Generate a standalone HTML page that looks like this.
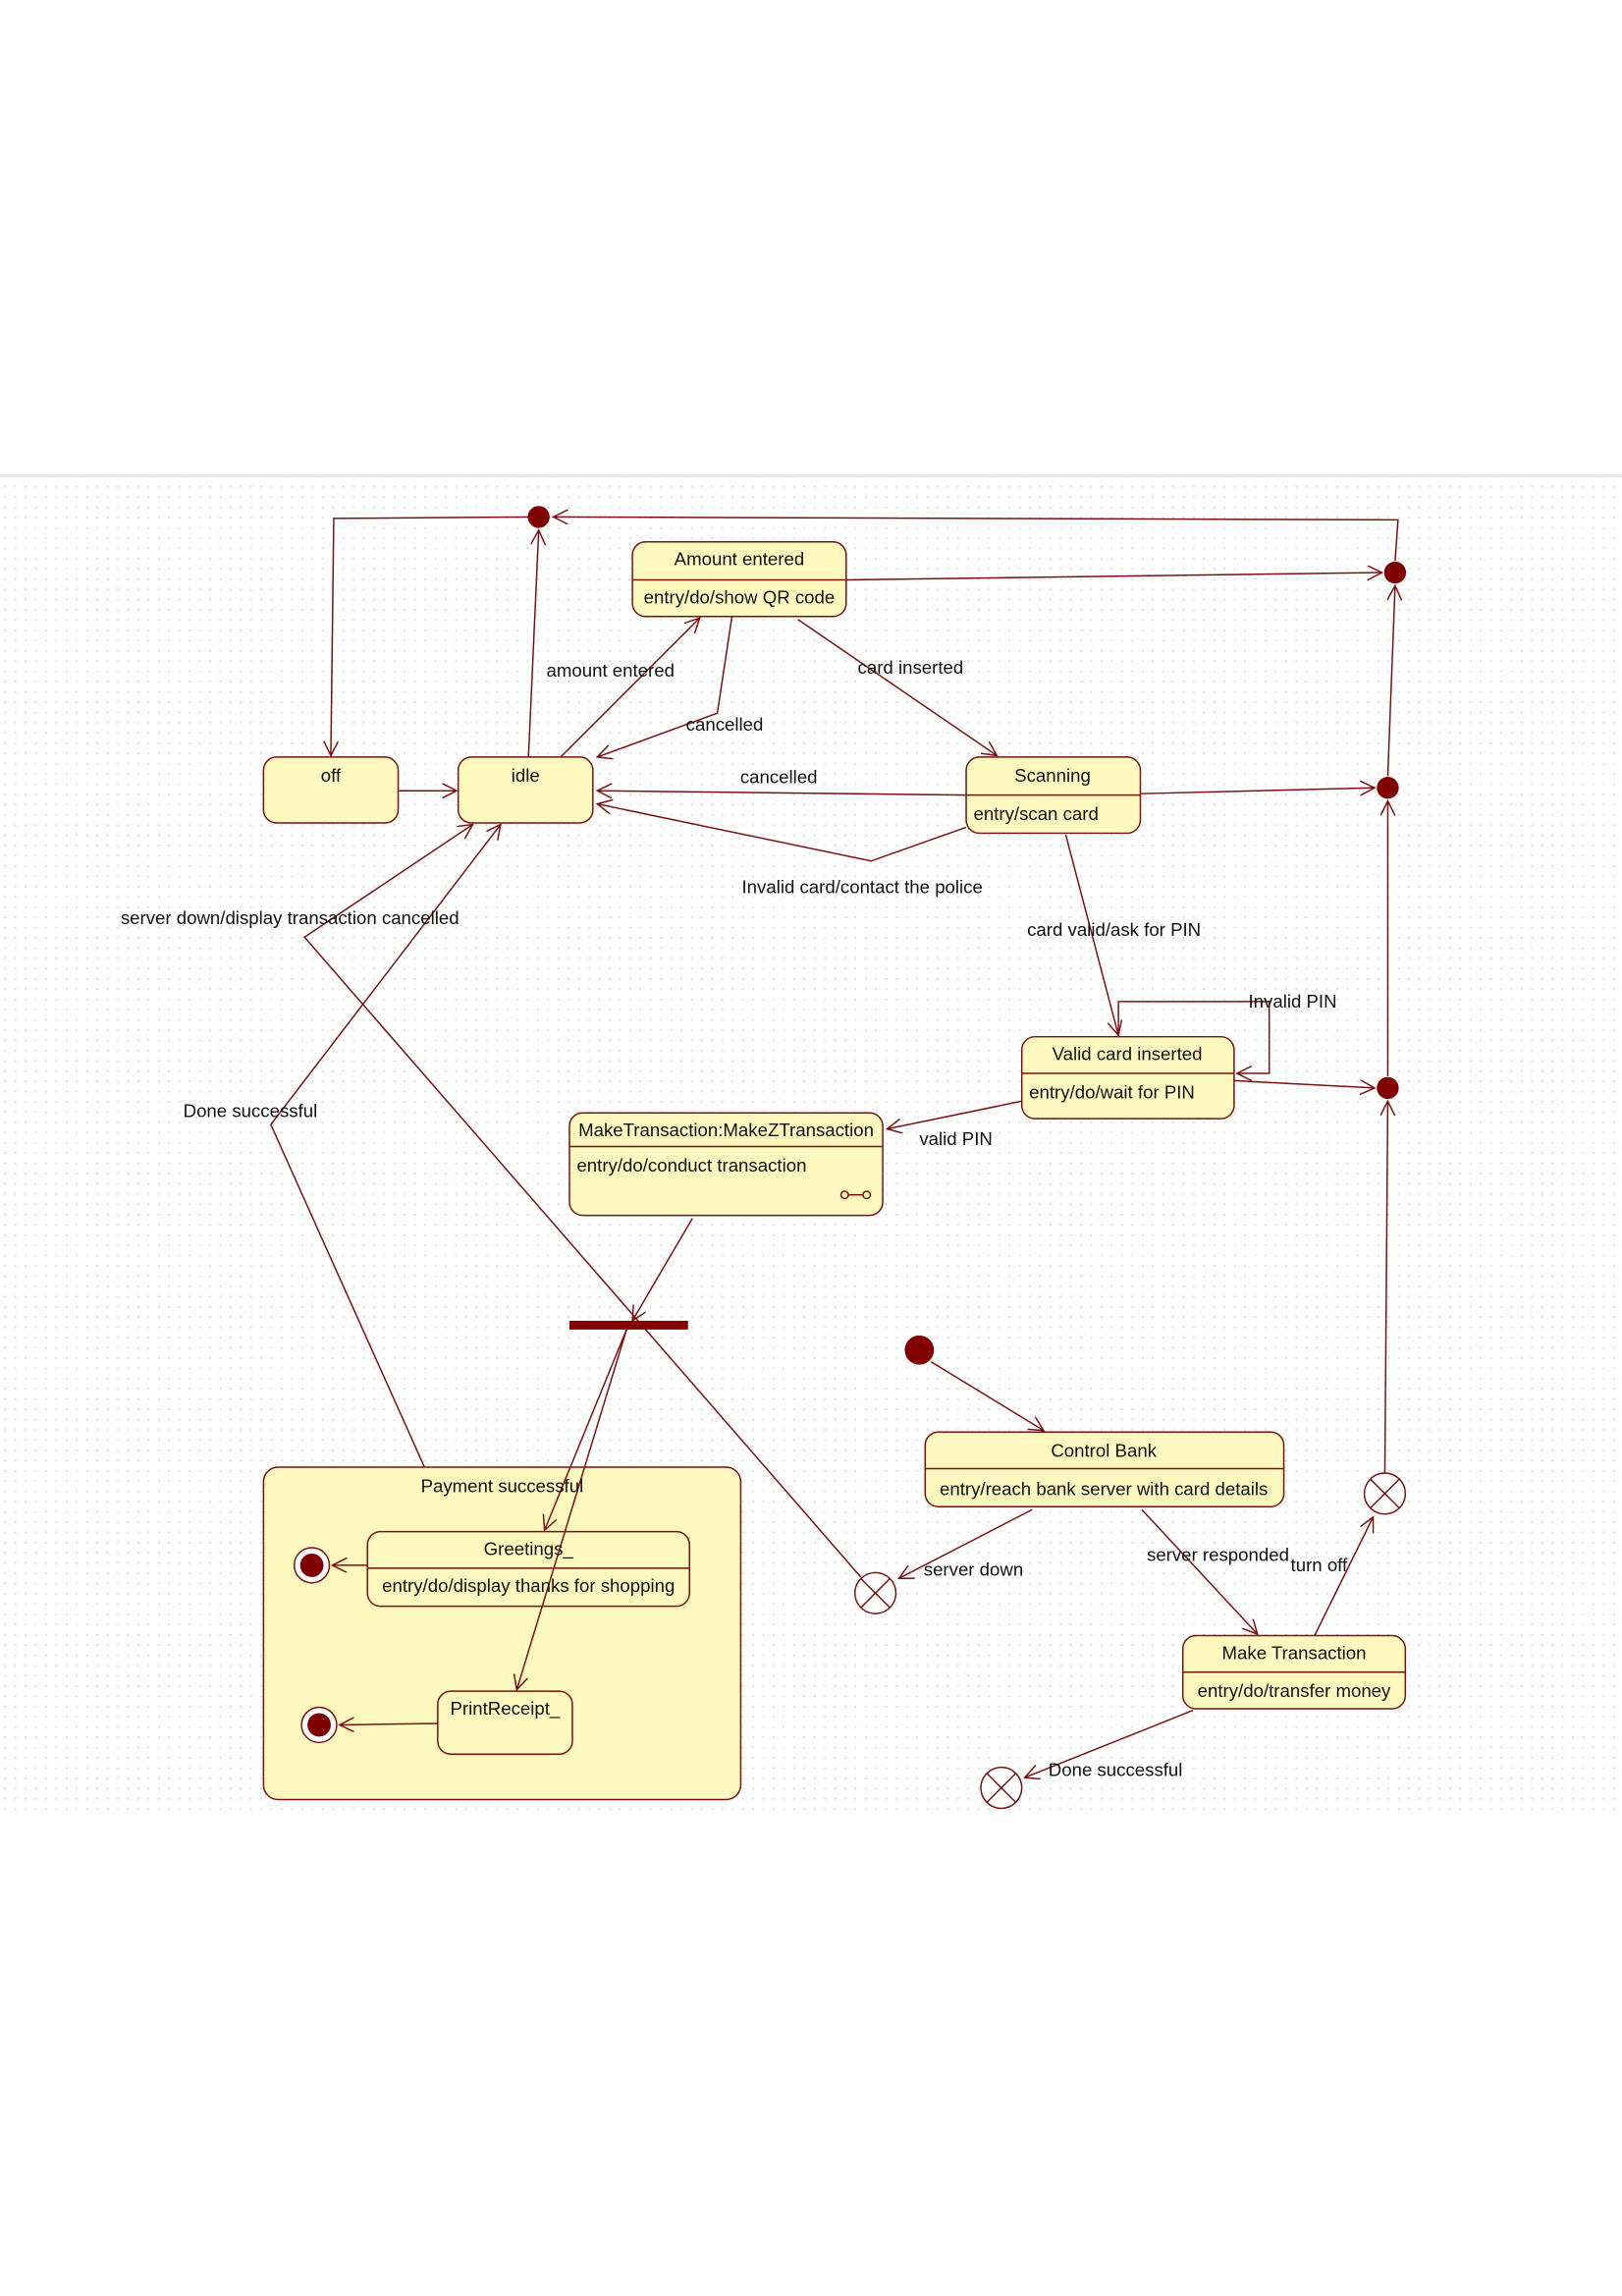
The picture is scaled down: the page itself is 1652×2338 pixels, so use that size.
<!DOCTYPE html>
<html><head><meta charset="utf-8"><style>
html,body{margin:0;padding:0;background:#fff;}
svg{display:block;}
text{font-family:"Liberation Sans",sans-serif;font-size:12.5px;fill:#111;}
</style></head><body>
<svg width="1652" height="2338" viewBox="0 0 1108 1568" xmlns="http://www.w3.org/2000/svg">
<defs>
<pattern id="g" width="7" height="7" patternUnits="userSpaceOnUse"><rect x="3" y="3" width="1" height="1" fill="#d0d0d0"/></pattern>
<marker id="a" markerWidth="12" markerHeight="12" refX="10" refY="5" orient="auto" markerUnits="userSpaceOnUse"><path d="M0,0 L10,5 L0,10" fill="none" stroke="#7a1010" stroke-width="1"/></marker>
</defs>
<rect x="0" y="325" width="1108" height="917" fill="url(#g)"/>
<line x1="0" y1="325" x2="1108" y2="325" stroke="#e6e6e6" stroke-width="2"/>
<g fill="none" stroke="#7a1010" stroke-width="1">
<polyline points="953,383 955,355 378,353" marker-end="url(#a)"/>
<line x1="948" y1="530" x2="953" y2="400" marker-end="url(#a)"/>
<line x1="948" y1="735" x2="948" y2="547" marker-end="url(#a)"/>
<line x1="946" y1="1006" x2="948" y2="752" marker-end="url(#a)"/>
<polyline points="368,353 228,354 226,516" marker-end="url(#a)"/>
<line x1="361" y1="517" x2="368" y2="362" marker-end="url(#a)"/>
<line x1="272" y1="540" x2="312" y2="540" marker-end="url(#a)"/>
<line x1="578" y1="396" x2="944" y2="391" marker-end="url(#a)"/>
<line x1="383" y1="517" x2="478" y2="422" marker-end="url(#a)"/>
<polyline points="500,421 490,487 408,517" marker-end="url(#a)"/>
<line x1="545" y1="423" x2="681" y2="516" marker-end="url(#a)"/>
<line x1="660" y1="543" x2="408" y2="540" marker-end="url(#a)"/>
<polyline points="660,565 595,588 408,549" marker-end="url(#a)"/>
<line x1="779" y1="542" x2="939" y2="538" marker-end="url(#a)"/>
<line x1="728" y1="570" x2="764" y2="707" marker-end="url(#a)"/>
<polyline points="764,708 764,684 867,684 867,733 845,733" marker-end="url(#a)"/>
<line x1="843" y1="738" x2="939" y2="743" marker-end="url(#a)"/>
<line x1="698" y1="752" x2="606" y2="771" marker-end="url(#a)"/>
<line x1="473" y1="832" x2="432" y2="902" marker-end="url(#a)"/>
<polyline points="588,1077 208,640 323,563" marker-end="url(#a)"/>
<polyline points="290,1002 185,768 342,563" marker-end="url(#a)"/>
<line x1="636" y1="930" x2="713" y2="977" marker-end="url(#a)"/>
<line x1="705" y1="1031" x2="614" y2="1078" marker-end="url(#a)"/>
<line x1="780" y1="1031" x2="859" y2="1116" marker-end="url(#a)"/>
<line x1="898" y1="1117" x2="938" y2="1036" marker-end="url(#a)"/>
<line x1="815" y1="1168" x2="700" y2="1214" marker-end="url(#a)"/>
</g>
<g fill="#fff8bf" stroke="#7a1010" stroke-width="1">
<rect x="180" y="1002" width="326" height="227" rx="10"/>
<rect x="180" y="517" width="92" height="45" rx="9"/>
<rect x="313" y="517" width="92" height="45" rx="9"/>
<rect x="432" y="370" width="146" height="51" rx="9"/>
<rect x="660" y="517" width="119" height="52" rx="9"/>
<rect x="698" y="708" width="145" height="56" rx="9"/>
<rect x="389" y="760" width="214" height="70" rx="9"/>
<rect x="251" y="1046" width="220" height="51" rx="9"/>
<rect x="299" y="1155" width="92" height="43" rx="9"/>
<rect x="632" y="978" width="245" height="51" rx="9"/>
<rect x="808" y="1117" width="152" height="50" rx="9"/>
</g>
<g fill="none" stroke="#7a1010" stroke-width="1">
<line x1="428" y1="908" x2="372" y2="1045" marker-end="url(#a)"/>
<line x1="428" y1="908" x2="353" y2="1154" marker-end="url(#a)"/>
<line x1="251" y1="1069" x2="227" y2="1069" marker-end="url(#a)"/>
<line x1="299" y1="1177" x2="232" y2="1178" marker-end="url(#a)"/>
</g>
<g stroke="#7a1010" stroke-width="1">
<line x1="432" y1="396" x2="578" y2="396"/>
<line x1="660" y1="543" x2="779" y2="543"/>
<line x1="698" y1="733" x2="843" y2="733"/>
<line x1="389" y1="783" x2="603" y2="783"/>
<line x1="251" y1="1071" x2="471" y2="1071"/>
<line x1="632" y1="1003" x2="877" y2="1003"/>
<line x1="808" y1="1142" x2="960" y2="1142"/>
</g>
<g fill="#800000">
<circle cx="368" cy="353" r="7.5"/><circle cx="953" cy="391" r="7.5"/>
<circle cx="948" cy="538" r="7.5"/><circle cx="948" cy="743" r="7.5"/>
<circle cx="628" cy="922" r="10"/>
<rect x="389" y="902" width="81" height="6"/>
</g>
<g fill="#fff" stroke="#7a1010" stroke-width="1">
<circle cx="213" cy="1069" r="12"/><circle cx="218" cy="1178" r="12"/>
<circle cx="598" cy="1088" r="14"/><circle cx="946" cy="1020" r="14"/><circle cx="684" cy="1221" r="14"/>
</g>
<circle cx="213" cy="1069" r="8" fill="#800000"/><circle cx="218" cy="1178" r="8" fill="#800000"/>
<g stroke="#7a1010" stroke-width="1" fill="none">
<path d="M588,1078 L608,1098 M608,1078 L588,1098"/>
<path d="M936,1010 L956,1030 M956,1010 L936,1030"/>
<path d="M674,1211 L694,1231 M694,1211 L674,1231"/>
<circle cx="577" cy="816" r="2.5"/><circle cx="592" cy="816" r="2.5"/>
<line x1="579.5" y1="816" x2="589.5" y2="816"/>
</g>
<g text-anchor="middle">
<text x="226" y="534">off</text><text x="359" y="534">idle</text>
<text x="505" y="386">Amount entered</text><text x="505" y="412">entry/do/show QR code</text>
<text x="719" y="534">Scanning</text>
<text x="770" y="724">Valid card inserted</text>
<text x="496" y="776">MakeTransaction:MakeZTransaction</text>
<text x="343" y="1019">Payment successful</text>
<text x="361" y="1062">Greetings_</text>
<text x="361" y="1087">entry/do/display thanks for shopping</text>
<text x="345" y="1171">PrintReceipt_</text>
<text x="754" y="995">Control Bank</text>
<text x="754" y="1021">entry/reach bank server with card details</text>
<text x="884" y="1133">Make Transaction</text>
<text x="884" y="1159">entry/do/transfer money</text>
<text x="417" y="462">amount entered</text>
<text x="495" y="499">cancelled</text>
<text x="622" y="460">card inserted</text>
<text x="532" y="535">cancelled</text>
<text x="589" y="610">Invalid card/contact the police</text>
<text x="761" y="639">card valid/ask for PIN</text>
<text x="883" y="688">Invalid PIN</text>
<text x="653" y="782">valid PIN</text>
<text x="198" y="631">server down/display transaction cancelled</text>
<text x="171" y="763">Done successful</text>
<text x="665" y="1076">server down</text>
<text x="832" y="1066">server responded</text>
<text x="901" y="1073">turn off</text>
<text x="762" y="1213">Done successful</text>
</g>
<text x="665" y="560">entry/scan card</text>
<text x="703" y="750">entry/do/wait for PIN</text>
<text x="394" y="800">entry/do/conduct transaction</text>
</svg>
</body></html>
